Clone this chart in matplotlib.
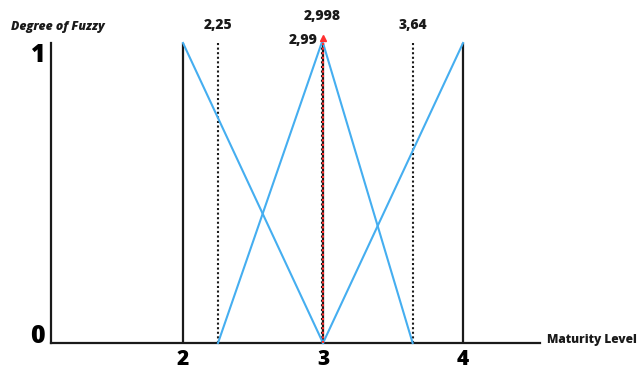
import matplotlib
matplotlib.use("Agg")
import matplotlib.pyplot as plt

plt.rcParams['font.family'] = ['Open Sans', 'DejaVu Sans']

# Maturity levels and fuzzy degrees shown on the axes
levels = [2, 3, 4]
level_labels = ['2', '3', '4']
degree_ticks = [0, 1]
degree_labels = ['0', '1']

# Membership functions
low_x = [2, 3]
low_y = [1, 0]
mid_x = [2.25, 2.99, 3.0, 3.64]
mid_y = [0, 1, 1, 0]
high_x = [3, 4]
high_y = [0, 1]

# Reference values marked with dotted guides
guide_x = [2.25, 2.99, 3.64]
guide_labels = ['2,25', '2,99', '3,64']
result_x = 2.998
result_label = '2,998'

BLUE = '#45aef0'
INK = '#1a1a1a'
RED = '#ff3030'

fig = plt.figure(figsize=(6.41, 3.69), dpi=100)
ax = fig.add_axes([0, 0, 1, 1])
ax.set_xlim(0.693, 5.271)
ax.set_ylim(-0.0867, 1.1433)
ax.patch.set_visible(False)

origin_x = 1.055
axis_end = 4.55

for side in ('top', 'right'):
    ax.spines[side].set_visible(False)
ax.spines['left'].set_position(('data', origin_x))
ax.spines['left'].set_bounds(0, 1)
ax.spines['bottom'].set_position(('data', 0))
ax.spines['bottom'].set_bounds(origin_x, axis_end)
for side in ('left', 'bottom'):
    ax.spines[side].set_linewidth(1.6)
    ax.spines[side].set_color(INK)

ax.set_xticks(levels)
ax.set_xticklabels(level_labels, fontsize=15, fontweight='heavy')
ax.set_yticks(degree_ticks)
ax.set_yticklabels(degree_labels, fontsize=18, fontweight='heavy')
ax.tick_params(axis='x', length=0, pad=4)
ax.tick_params(axis='y', length=0, pad=4)
for lab, va in zip(ax.get_yticklabels(), ['baseline', 'top']):
    lab.set_va(va)

# Solid verticals at each maturity level
ax.vlines(levels, 0, 1, colors=INK, linewidth=1.6, zorder=2)

# Dotted guides
ax.vlines(guide_x, 0, 1, colors=INK, linestyles=(0, (1, 1.2)), linewidth=1.5, zorder=3)

# Membership lines
for xs, ys in ((low_x, low_y), (mid_x, mid_y), (high_x, high_y)):
    ax.plot(xs, ys, color=BLUE, linewidth=1.5, zorder=4)

# Defuzzified result
ax.vlines([result_x], 0, 1, colors=RED, linestyles=(0, (1, 1.2)), linewidth=1.5, zorder=5)
ax.plot([result_x], [1.017], marker='^', color=RED, markersize=4.5, zorder=6)

# Labels for the guide values
label_style = dict(fontsize=10, fontweight='heavy', color=INK)
ax.text(guide_x[0], 1.06, guide_labels[0], ha='center', va='center', **label_style)
ax.text(guide_x[1] - 0.03, 1.01, guide_labels[1], ha='right', va='center', **label_style)
ax.text(guide_x[2], 1.06, guide_labels[2], ha='center', va='center', **label_style)
ax.text(result_x, 1.09, result_label, ha='center', va='center', **label_style)

# Axis titles
ax.text(1.105, 1.053, 'Degree of Fuzzy', ha='center', va='center',
        fontsize=8.8, fontweight='heavy', fontstyle='italic', color=INK)
ax.text(axis_end + 0.05, 0.01, 'Maturity Level', ha='left', va='center',
        fontsize=8.6, fontweight='heavy', color=INK)

fig.savefig('out.png', dpi=100)
